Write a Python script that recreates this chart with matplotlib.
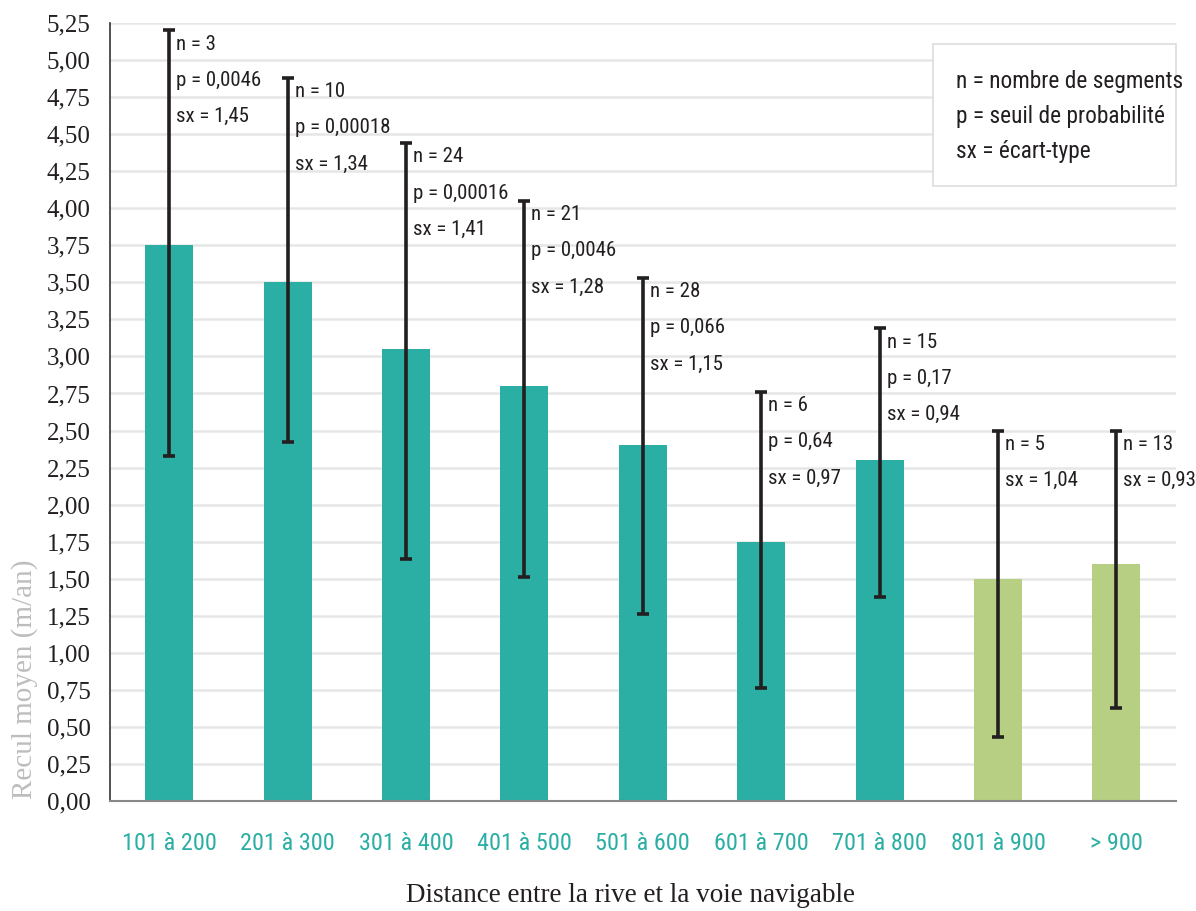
import matplotlib.pyplot as plt
import matplotlib.font_manager as fm
from matplotlib.patches import Rectangle

# Données
categories = ['101 à 200', '201 à 300', '301 à 400', '401 à 500', '501 à 600',
              '601 à 700', '701 à 800', '801 à 900', '> 900']
recul = [3.75, 3.50, 3.05, 2.80, 2.40, 1.75, 2.30, 1.50, 1.60]
borne_haute = [5.20, 4.88, 4.44, 4.05, 3.53, 2.76, 3.19, 2.50, 2.50]
borne_basse = [2.33, 2.42, 1.63, 1.51, 1.26, 0.76, 1.38, 0.43, 0.63]
n_seg = ['3', '10', '24', '21', '28', '6', '15', '5', '13']
p_seuil = ['0,0046', '0,00018', '0,00016', '0,0046', '0,066', '0,64', '0,17', None, None]
ecart = ['1,45', '1,34', '1,41', '1,28', '1,15', '0,97', '0,94', '1,04', '0,93']
couleurs = ['#2baea4'] * 7 + ['#b6cf82'] * 2

serif = ['Liberation Serif', 'DejaVu Serif']
noms = {f.name for f in fm.fontManager.ttflist}
etroites = [f for f in ['Roboto Condensed', 'DejaVu Sans Condensed', 'Liberation Sans Narrow',
                        'Roboto'] if f in noms]
narrow = etroites[:1] + ['DejaVu Sans']

fig = plt.figure(figsize=(11.96, 9.11), dpi=100)
ax = fig.add_axes([0.092, 0.1207, 0.891, 0.8541])

x = list(range(len(categories)))
err_bas = [r - b for r, b in zip(recul, borne_basse)]
err_haut = [h - r for r, h in zip(recul, borne_haute)]
ax.bar(x, recul, width=0.405, color=couleurs, zorder=2)
ax.errorbar(x, recul, yerr=[err_bas, err_haut], fmt='none', ecolor='#231f20',
            elinewidth=2.6, capsize=4.5, capthick=2.6, zorder=3)

# Étiquettes n / p / sx à côté de chaque barre d'erreur
for i in x:
    lignes = ['n = ' + n_seg[i]]
    if p_seuil[i] is not None:
        lignes.append('p = ' + p_seuil[i])
    lignes.append('sx = ' + ecart[i])
    for k, t in enumerate(lignes):
        ax.annotate(t, (i, borne_haute[i]), xytext=(5, -10 - k * 26),
                    textcoords='offset points', ha='left', va='center',
                    fontsize=15, family=narrow, color='#231f20', zorder=4)

ax.set_xlim(-0.5, 8.5)
ax.set_ylim(0, 5.25)
ax.set_yticks([i * 0.25 for i in range(22)])
ax.set_yticklabels([f'{i * 0.25:.2f}'.replace('.', ',') for i in range(22)],
                   family=serif, fontsize=18, color='#231f20')
ax.set_xticks(x)
ax.set_xticklabels(categories, family=narrow, fontsize=17.5, color='#2baea4')
ax.tick_params(axis='both', length=0)
ax.tick_params(axis='x', pad=22)
ax.tick_params(axis='y', pad=14)
ax.grid(axis='y', color='#e6e6e6', linewidth=1.8, zorder=0)
ax.set_axisbelow(True)
for s in ['top', 'right']:
    ax.spines[s].set_visible(False)
ax.spines['left'].set_color('#333333')
ax.spines['left'].set_linewidth(1.2)
ax.spines['bottom'].set_color('#888888')
ax.spines['bottom'].set_linewidth(1.5)

ax.set_ylabel('Recul moyen (m/an)', family=serif, fontsize=21, color='#bdbdbd')
ax.yaxis.set_label_coords(-0.068, 0.157)
fig.text(0.527, 0.0165, 'Distance entre la rive et la voie navigable', family=serif,
         fontsize=19.5, color='#231f20', ha='center', va='center')

# Légende
fig.patches.append(Rectangle((0.780, 0.796), 0.203, 0.156, transform=fig.transFigure,
                             fc='white', ec='#dddddd', lw=1.2, zorder=5))
legende = ['n = nombre de segments', 'p = seuil de probabilité', 'sx = écart-type']
for k, t in enumerate(legende):
    fig.text(0.799, 0.911 - k * 0.0384, t, family=narrow, fontsize=16.8,
             color='#231f20', ha='left', va='center', zorder=6)

fig.savefig('out.png', dpi=100)
